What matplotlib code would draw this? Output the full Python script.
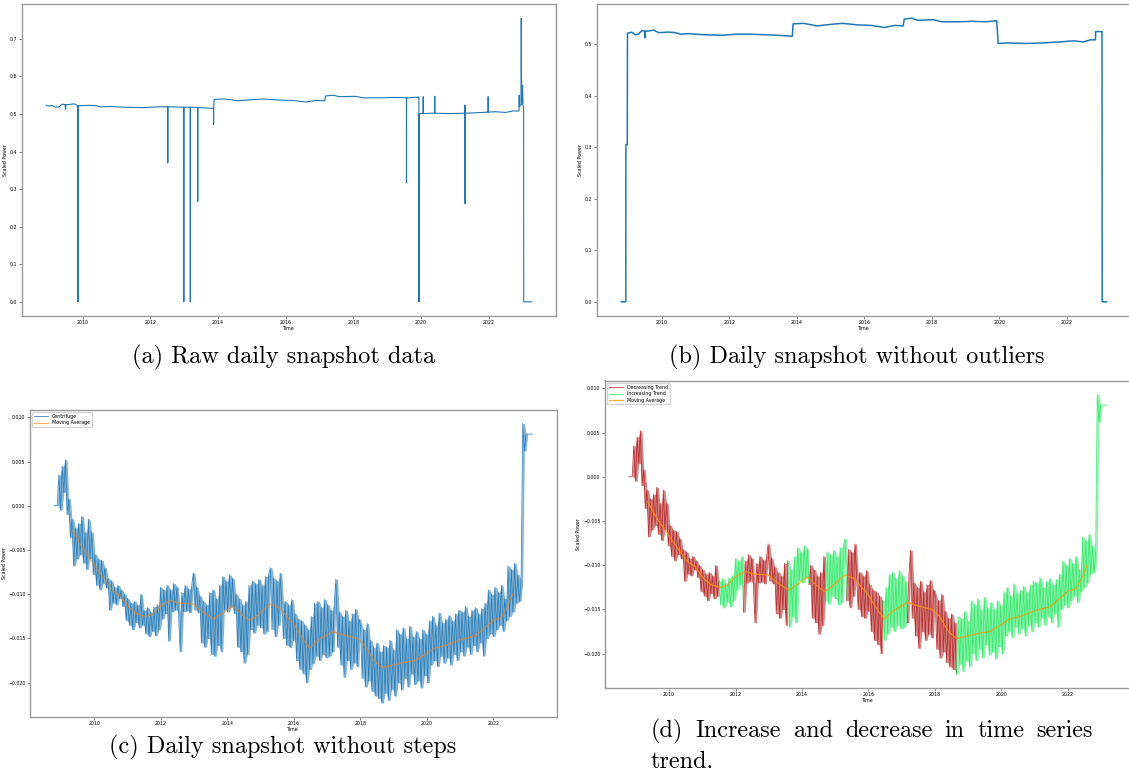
import numpy as np
import pandas as pd
import matplotlib
matplotlib.use("Agg")
import matplotlib.pyplot as plt
import matplotlib.dates as mdates

# ---------------------------------
# level of the daily snapshot (shared by raw and cleaned views)
# ---------------------------------
level_dates = ['2009-01-01', '2009-02-05', '2009-03-15', '2009-04-20', '2009-05-25',
               '2009-06-25', '2009-07-01', '2009-07-05', '2009-08-05', '2009-10-01',
               '2009-11-25', '2010-03-15', '2010-05-25', '2010-07-20', '2010-10-20',
               '2011-03-15', '2011-10-20', '2012-03-15', '2012-08-05', '2013-01-01',
               '2013-05-25', '2013-11-12', '2013-11-20', '2014-03-15', '2014-08-05',
               '2015-01-01', '2015-05-08', '2015-10-20', '2016-03-15', '2016-08-05',
               '2016-11-25', '2017-02-25', '2017-03-07', '2017-05-25', '2017-08-05',
               '2018-01-20', '2018-04-20', '2018-10-20', '2019-03-15', '2019-08-05',
               '2019-12-05', '2019-12-20', '2020-04-20', '2020-10-20', '2021-04-10',
               '2021-10-20', '2022-03-15', '2022-07-01', '2022-09-15', '2022-11-05']
level_vals = [0.521, 0.523, 0.518, 0.519, 0.526,
              0.525, 0.512, 0.525, 0.525, 0.527,
              0.522, 0.523, 0.522, 0.519, 0.520,
              0.518, 0.517, 0.519, 0.519, 0.518,
              0.517, 0.515, 0.539, 0.540, 0.535,
              0.538, 0.540, 0.537, 0.536, 0.532,
              0.536, 0.535, 0.548, 0.550, 0.546,
              0.547, 0.543, 0.543, 0.544, 0.543,
              0.545, 0.501, 0.502, 0.501, 0.502,
              0.504, 0.506, 0.504, 0.508, 0.508]

# outliers only present in the raw data
raw_head_dates = ['2008-12-05']
raw_head_vals = [0.523]
spike_dates = ['2009-11-11', '2009-11-12', '2009-11-13',
               '2012-07-07', '2012-07-08', '2012-07-09',
               '2012-12-27', '2012-12-28', '2012-12-29',
               '2013-03-07', '2013-03-08', '2013-03-09',
               '2013-05-26', '2013-05-27', '2013-05-28',
               '2013-11-13', '2013-11-14', '2013-11-15',
               '2019-07-26', '2019-07-27', '2019-07-28',
               '2019-12-08', '2019-12-09', '2019-12-10',
               '2020-01-22', '2020-01-23', '2020-01-24',
               '2020-05-26', '2020-05-27', '2020-05-28',
               '2021-04-17', '2021-04-18', '2021-04-19', '2021-04-20',
               '2021-12-23', '2021-12-24', '2021-12-25']
spike_vals = [0.522, 0.0, 0.522,
              0.519, 0.370, 0.519,
              0.518, 0.0, 0.518,
              0.518, 0.0, 0.518,
              0.517, 0.267, 0.517,
              0.515, 0.472, 0.515,
              0.543, 0.317, 0.543,
              0.545, 0.0, 0.501,
              0.501, 0.546, 0.501,
              0.502, 0.547, 0.502,
              0.502, 0.524, 0.261, 0.502,
              0.505, 0.546, 0.505]
raw_tail_dates = ['2022-11-22', '2022-11-24', '2022-11-26', '2022-12-14', '2022-12-16',
                  '2022-12-19', '2022-12-24', '2022-12-30', '2023-01-04', '2023-01-10',
                  '2023-01-12', '2023-04-08']
raw_tail_vals = [0.508, 0.550, 0.520, 0.525, 0.755,
                 0.525, 0.540, 0.577, 0.522, 0.520,
                 0.0, 0.0]

# cleaned data: zero padding at both ends
clean_head_dates = ['2008-10-16', '2008-12-04', '2008-12-05', '2008-12-20', '2008-12-22']
clean_head_vals = [0.0, 0.0, 0.305, 0.305, 0.521]
clean_tail_dates = ['2022-11-08', '2022-11-10', '2023-01-18', '2023-01-20', '2023-03-10']
clean_tail_vals = [0.508, 0.524, 0.524, 0.0, 0.0]

# ---------------------------------
# step-free series (18 day snapshots from 2008-10-16)
# ---------------------------------
cf_start = '2008-10-16'
centrifuge = [
    0.0, 0.0, 0.0, 0.0035, -0.0005, 0.0045, 0.0015, 0.0052, -0.0010, 0.0008,
    -0.0036, -0.0015, -0.0068, -0.0025, -0.0060, -0.0020, -0.0055, -0.0012, -0.0065, -0.0030,
    -0.0072, -0.0015, -0.0060, -0.0030, -0.0078,
    # 2010
    -0.0055, -0.0090, -0.0060, -0.0095, -0.0062, -0.0088, -0.0070, -0.0093, -0.0082, -0.0118,
    -0.0085, -0.0110, -0.0092, -0.0112, -0.0090, -0.0105, -0.0095, -0.0114, -0.0100, -0.0130,
    # 2011
    -0.0105, -0.0135, -0.0110, -0.0140, -0.0108, -0.0132, -0.0112, -0.0138, -0.0100, -0.0135,
    -0.0118, -0.0145, -0.0115, -0.0148, -0.0120, -0.0142, -0.0114, -0.0147, -0.0112, -0.0140,
    # 2012
    -0.0092, -0.0128, -0.0095, -0.0122, -0.0090, -0.0153, -0.0095, -0.0120, -0.0088, -0.0118,
    -0.0092, -0.0122, -0.0165, -0.0098, -0.0120, -0.0090, -0.0119, -0.0094, -0.0121, -0.0091,
    # 2013
    -0.0076, -0.0118, -0.0092, -0.0121, -0.0102, -0.0155, -0.0108, -0.0160, -0.0112, -0.0150,
    -0.0098, -0.0168, -0.0095, -0.0170, -0.0105, -0.0158, -0.0090, -0.0165, -0.0080, -0.0118,
    -0.0085,
    # 2014
    -0.0120, -0.0078, -0.0115, -0.0082, -0.0122, -0.0100, -0.0160, -0.0105, -0.0165, -0.0112,
    -0.0178, -0.0108, -0.0168, -0.0090, -0.0140, -0.0085, -0.0144, -0.0088, -0.0135, -0.0083,
    # 2015
    -0.0138, -0.0090, -0.0145, -0.0080, -0.0142, -0.0078, -0.0070, -0.0140, -0.0082, -0.0148,
    -0.0085, -0.0135, -0.0076, -0.0110, -0.0150, -0.0108, -0.0158, -0.0112, -0.0160, -0.0106,
    -0.0152,
    # 2016
    -0.0122, -0.0175, -0.0128, -0.0185, -0.0130, -0.0190, -0.0135, -0.0200, -0.0140, -0.0185,
    -0.0125, -0.0178, -0.0110, -0.0170, -0.0108, -0.0175, -0.0115, -0.0168, -0.0106, -0.0172,
    # 2017
    -0.0112, -0.0170, -0.0118, -0.0165, -0.0110, -0.0083, -0.0160, -0.0120, -0.0180, -0.0125,
    -0.0194, -0.0118, -0.0175, -0.0130, -0.0185, -0.0122, -0.0178, -0.0117, -0.0182, -0.0128,
    # 2018
    -0.0135, -0.0195, -0.0140, -0.0205, -0.0133, -0.0198, -0.0152, -0.0210, -0.0160, -0.0215,
    -0.0155, -0.0218, -0.0165, -0.0223, -0.0158, -0.0212, -0.0160, -0.0220, -0.0152, -0.0208,
    -0.0163,
    # 2019
    -0.0215, -0.0140, -0.0200, -0.0145, -0.0208, -0.0138, -0.0195, -0.0150, -0.0205, -0.0136,
    -0.0190, -0.0148, -0.0202, -0.0142, -0.0198, -0.0150, -0.0206, -0.0140, -0.0192, -0.0145,
    # 2020
    -0.0200, -0.0130, -0.0180, -0.0125, -0.0175, -0.0135, -0.0182, -0.0121, -0.0170, -0.0132,
    -0.0178, -0.0128, -0.0172, -0.0124, -0.0180, -0.0130, -0.0168, -0.0122, -0.0175, -0.0118,
    # 2021
    -0.0165, -0.0120, -0.0170, -0.0114, -0.0160, -0.0125, -0.0168, -0.0118, -0.0158, -0.0115,
    -0.0165, -0.0122, -0.0155, -0.0116, -0.0170, -0.0110, -0.0150, -0.0095, -0.0145, -0.0100,
    -0.0148,
    # 2022
    -0.0092, -0.0140, -0.0098, -0.0135, -0.0090, -0.0142, -0.0105, -0.0130, -0.0068, -0.0125,
    -0.0072, -0.0120, -0.0065, -0.0110, -0.0078, -0.0108, -0.0085, 0.0093, 0.0062, 0.0081,
    # 2023
    0.0081, 0.0081, 0.0081, 0.0081,
]

ma_dates = ['2009-05-08', '2009-08-25', '2009-12-20', '2010-04-20', '2010-07-23',
            '2010-10-08', '2011-01-15', '2011-04-05', '2011-07-13', '2011-09-28',
            '2012-01-01', '2012-04-20', '2012-07-20', '2012-12-25', '2013-04-20',
            '2013-08-08', '2013-11-25', '2014-02-28', '2014-05-20', '2014-09-02',
            '2014-11-28', '2015-04-16', '2015-07-23', '2015-12-28', '2016-04-05',
            '2016-06-25', '2016-09-27', '2017-03-03', '2017-06-28', '2017-12-01',
            '2018-02-20', '2018-05-30', '2018-08-28', '2019-01-01', '2019-04-27',
            '2019-08-25', '2019-12-20', '2020-03-28', '2020-07-24', '2021-01-15',
            '2021-06-20', '2021-10-20', '2022-01-05', '2022-03-27', '2022-06-10',
            '2022-07-31']
ma_vals = [-0.0028, -0.0048, -0.0065, -0.0083, -0.0096,
           -0.0101, -0.0115, -0.0122, -0.0125, -0.0123,
           -0.0113, -0.0107, -0.0110, -0.0111, -0.0121,
           -0.0128, -0.0121, -0.0113, -0.0121, -0.0130,
           -0.0124, -0.0111, -0.0115, -0.0133, -0.0150,
           -0.0161, -0.0152, -0.0142, -0.0146, -0.0150,
           -0.0158, -0.0175, -0.0183, -0.0180, -0.0177,
           -0.0175, -0.0168, -0.0161, -0.0158, -0.0151,
           -0.0147, -0.0136, -0.0129, -0.0127, -0.0113,
           -0.0100]

# turning points of the moving average, first segment is decreasing
turn_dates = ['2011-07-15', '2012-04-12', '2013-08-08', '2014-03-25', '2014-09-20',
              '2015-05-15', '2016-06-15', '2017-03-18', '2018-09-05']

captions = ['(a) Raw daily snapshot data', '(b) Daily snapshot without outliers',
            '(c) Daily snapshot without steps']
caption_d = ['(d)', 'Increase', 'and', 'decrease', 'in', 'time', 'series']
caption_d2 = 'trend.'

BLUE = '#1f77b4'
ORANGE = '#ff7f0e'
RED = '#b22222'
GREEN = '#2ee866'
SPINE = '#9a9a9a'
TS = 3.4

raw = pd.concat([
    pd.Series(raw_head_vals, index=pd.to_datetime(raw_head_dates)),
    pd.Series(level_vals, index=pd.to_datetime(level_dates)),
    pd.Series(spike_vals, index=pd.to_datetime(spike_dates)),
    pd.Series(raw_tail_vals, index=pd.to_datetime(raw_tail_dates)),
]).sort_index()
clean = pd.concat([
    pd.Series(clean_head_vals, index=pd.to_datetime(clean_head_dates)),
    pd.Series(level_vals, index=pd.to_datetime(level_dates)),
    pd.Series(clean_tail_vals, index=pd.to_datetime(clean_tail_dates)),
]).sort_index()
cf = pd.Series(centrifuge, index=pd.date_range(cf_start, periods=len(centrifuge), freq='18D'))
ma = pd.Series(ma_vals, index=pd.to_datetime(ma_dates))
# band covered by the jagged daily line between neighbouring snapshots
cf_lo = cf.rolling(2, min_periods=1).min()
cf_hi = cf.rolling(2, min_periods=1).max()

fig = plt.figure(figsize=(11.29, 7.76), dpi=100)
W, H = 1129., 776.


def box(l, t, r, b):
    return [l / W, 1 - b / H, (r - l) / W, (b - t) / H]


def style(ax, ylab_x):
    for s in ax.spines.values():
        s.set_color(SPINE)
        s.set_linewidth(1.0)
    ax.tick_params(labelsize=TS, length=2, width=0.5, color='#555555', pad=1.2)
    ax.xaxis.set_major_locator(mdates.YearLocator(2))
    ax.xaxis.set_major_formatter(mdates.DateFormatter('%Y'))
    ax.set_xlabel('Time', fontsize=TS, labelpad=0.5)
    ax.set_ylabel('Scaled Power', fontsize=TS)
    ax.yaxis.set_label_coords(ylab_x, 0.5)


def jagged(ax, s, lo, hi, color, label=None):
    ax.fill_between(s.index, lo, hi, color=color, alpha=0.55, lw=0)
    ax.plot(s.index, s.values, color=color, lw=0.6, alpha=0.85, label=label)


ax_a = fig.add_axes(box(22, 4, 556, 316))
ax_a.plot(raw.index, raw.values, color=BLUE, lw=0.8)
style(ax_a, -0.026)

ax_b = fig.add_axes(box(597, 4, 1131, 316))
ax_b.plot(clean.index, clean.values, color=BLUE, lw=1.1)
style(ax_b, -0.026)

ax_c = fig.add_axes(box(30, 409.5, 556.5, 717))
jagged(ax_c, cf, cf_lo.values, cf_hi.values, BLUE, 'Centrifuge')
ax_c.plot(ma.index, ma.values, color=ORANGE, lw=0.9, alpha=0.6, label='Moving Average')
style(ax_c, -0.044)
ax_c.legend(loc='upper left', fontsize=TS, handlelength=3, borderpad=0.4, labelspacing=0.3)

ax_d = fig.add_axes(box(605, 380.5, 1131, 688))
bounds = [cf.index[0]] + list(pd.to_datetime(turn_dates)) + [cf.index[-1]]
for k in range(len(bounds) - 1):
    idx = np.where((cf.index >= bounds[k]) & (cf.index <= bounds[k + 1]))[0]
    if idx[0] > 0:
        idx = np.r_[idx[0] - 1, idx]
    dec = k % 2 == 0
    lab = None
    if k == 0:
        lab = 'Decreasing Trend'
    elif k == 1:
        lab = 'Increasing Trend'
    seg = cf.iloc[idx]
    lo = cf_lo.iloc[idx].values.copy()
    hi = cf_hi.iloc[idx].values.copy()
    lo[0] = hi[0] = seg.values[0]
    jagged(ax_d, seg, lo, hi, RED if dec else GREEN, lab)
ax_d.plot(ma.index, ma.values, color='#ff9900', lw=0.9, alpha=0.75, label='Moving Average')
style(ax_d, -0.045)
ax_d.legend(loc='upper left', fontsize=TS, handlelength=3, borderpad=0.4, labelspacing=0.3)

# captions
cap_kw = dict(fontfamily='cmr10', fontsize=17.5, va='center')
fig.text(284 / W, 1 - 357 / H, captions[0], ha='center', **cap_kw)
fig.text(857 / W, 1 - 357 / H, captions[1], ha='center', **cap_kw)
fig.text(283 / W, 1 - 747 / H, captions[2], ha='center', **cap_kw)

fig.canvas.draw()
r = fig.canvas.get_renderer()
words = [fig.text(0, 1 - 731 / H, w, ha='left', **cap_kw) for w in caption_d]
widths = [t.get_window_extent(r).width for t in words]
x0, x1 = 651., 1093.
gap = (x1 - x0 - sum(widths)) / (len(words) - 1)
x = x0
for t, w in zip(words, widths):
    t.set_x(x / W)
    x += w + gap
fig.text(x0 / W, 1 - 762 / H, caption_d2, ha='left', **cap_kw)

fig.savefig('out.png', dpi=100)
